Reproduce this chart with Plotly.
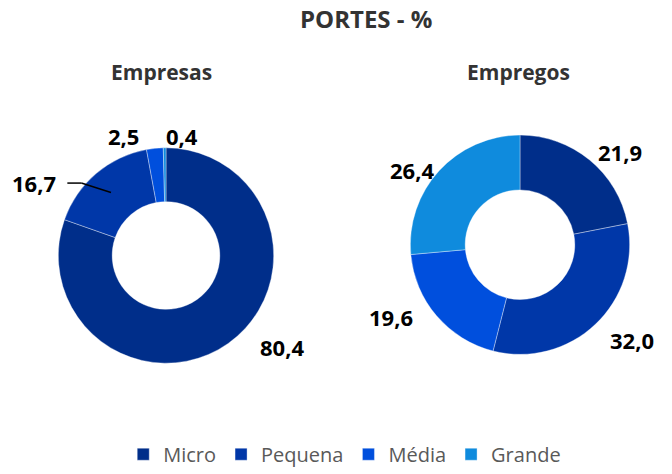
import math
import plotly.graph_objects as go

categories = ["Micro", "Pequena", "Média", "Grande"]
empresas = [80.4, 16.7, 2.5, 0.4]
empregos = [21.9, 32.0, 19.6, 26.4]
colors = ["#002E8A", "#0037A8", "#004FDD", "#0F8BDD"]

W, H = 672, 474

# pixel-space pie geometry (style)
left_center, left_R = (166, 261), 110
right_center, right_R = (520, 250), 112

def domain(center, R):
    cx, cy = center
    return dict(x=[(cx - R) / W, (cx + R) / W], y=[1 - (cy + R) / H, 1 - (cy - R) / H])

line_style = dict(color="rgba(255,255,255,0.6)", width=0.6)
fig = go.Figure()
fig.add_trace(go.Pie(labels=categories, values=empresas, hole=0.5, sort=False,
                     direction="clockwise", rotation=0, textinfo="none",
                     marker=dict(colors=colors, line=line_style),
                     domain=domain(left_center, left_R), hoverinfo="label+value"))
fig.add_trace(go.Pie(labels=categories, values=empregos, hole=0.5, sort=False,
                     direction="clockwise", rotation=0, textinfo="none",
                     marker=dict(colors=colors, line=line_style),
                     domain=domain(right_center, right_R), hoverinfo="label+value", showlegend=False))

def mid_angles(vals):
    tot = sum(vals)
    out, acc = [], 0
    for v in vals:
        out.append((acc + v / 2) / tot * 360)
        acc += v
    return out

def fmt(v):
    return f"{v:.1f}".replace(".", ",")

# per-label pixel nudges (style)
left_shifts = [(36, -19), (-42, 31), (-28, 15), (18, 16)]
right_shifts = [(11, 14), (15, -5), (-22, -17), (-4, 18)]

annotations = []
FONT = "Open Sans, sans-serif"
label_font = dict(family=FONT, size=22, color="#000000")

def add_labels(vals, center, R, shifts):
    cx, cy = center
    r = R * 1.255
    pts = []
    for v, a, (sx, sy) in zip(vals, mid_angles(vals), shifts):
        t = math.radians(a)
        px = cx + r * math.sin(t) + sx
        py = cy - r * math.cos(t) + sy
        pts.append((px, py))
        annotations.append(dict(x=px / W, y=1 - py / H, xref="paper", yref="paper",
                                text=f"<b>{fmt(v)}</b>", showarrow=False, font=label_font,
                                xanchor="center", yanchor="middle"))
    return pts

lp = add_labels(empresas, left_center, left_R, left_shifts)
add_labels(empregos, right_center, right_R, right_shifts)

# leader line for Pequena slice (left pie)
a = math.radians(mid_angles(empresas)[1])
ex = left_center[0] + 0.77 * left_R * math.sin(a)
ey = left_center[1] - 0.77 * left_R * math.cos(a)
sx0 = lp[1][0] + 33
sy0 = lp[1][1]
shapes = [
    dict(type="line", xref="paper", yref="paper", x0=sx0 / W, y0=1 - sy0 / H,
         x1=(sx0 + 14) / W, y1=1 - sy0 / H, line=dict(color="black", width=1.5)),
    dict(type="line", xref="paper", yref="paper", x0=(sx0 + 14) / W, y0=1 - sy0 / H,
         x1=ex / W, y1=1 - ey / H, line=dict(color="black", width=1.5)),
]

annotations += [
    dict(x=366 / W, y=1 - 19 / H, xref="paper", yref="paper", text="<b>PORTES - %</b>",
         showarrow=False, font=dict(family=FONT, size=24, color="#333333"),
         xanchor="center", yanchor="middle"),
    dict(x=161 / W, y=1 - 74 / H, xref="paper", yref="paper", text="<b>Empresas</b>",
         showarrow=False, font=dict(family=FONT, size=21, color="#333333"),
         xanchor="center", yanchor="middle"),
    dict(x=518 / W, y=1 - 74 / H, xref="paper", yref="paper", text="<b>Empregos</b>",
         showarrow=False, font=dict(family=FONT, size=21, color="#333333"),
         xanchor="center", yanchor="middle"),
]

fig.update_layout(
    width=W, height=H, margin=dict(l=0, r=0, t=0, b=0),
    paper_bgcolor="white", plot_bgcolor="white",
    annotations=annotations, shapes=shapes,
    legend=dict(orientation="h", x=0.513, xanchor="center", y=1 - 464 / H, yanchor="middle",
                font=dict(family=FONT, size=20, color="#595959"),
                itemwidth=30, traceorder="normal"),
)
fig.write_html("out.html", config={"displayModeBar": False},
               post_script="document.body.style.margin='0';document.body.style.overflow='hidden';")
